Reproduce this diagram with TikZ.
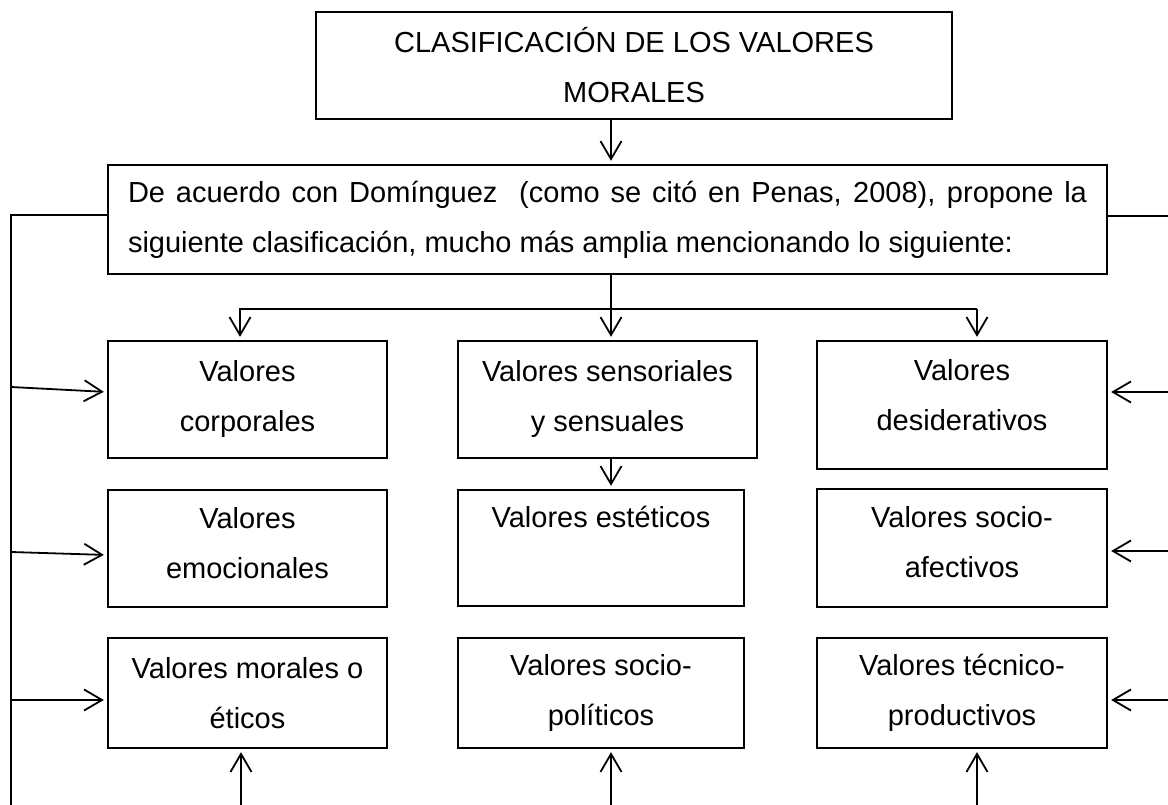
\documentclass[tikz,border=0pt]{standalone}
\usepackage{fontspec}
\setmainfont{Liberation Sans}
\usetikzlibrary{arrows.meta}
\begin{document}
\begin{tikzpicture}[x=1pt,y=-1pt,
  box/.style={draw, line width=1.3pt, inner sep=0pt, align=center, font=\fontsize{29}{50}\selectfont},
  arr/.style={-{Straight Barb[length=18pt,width=21pt]}, line width=1.8pt, shorten >=3.5pt},
  ln/.style={line width=1.8pt}]
\useasboundingbox (0,0) rectangle (1168,805);
\fill[white] (0,0) rectangle (1168,805);

% boxes
\node[box, minimum width=636pt, minimum height=107pt] (title) at (634,65.5) {CLASIFICACIÓN DE LOS VALORES\\MORALES};
\node[box, minimum width=999pt, minimum height=109pt, text width=959pt, align=justify] (sec) at (607.5,219.5)
  {De acuerdo con Domínguez\ \ (como se citó en Penas, 2008), propone la\linebreak siguiente clasificación, mucho más amplia mencionando lo siguiente:};

\node[box, minimum width=279pt, minimum height=117pt] (corp) at (247.5,399.5) {Valores\\corporales};
\node[box, minimum width=299pt, minimum height=117pt] (sens) at (607.5,399.5) {Valores sensoriales\\y sensuales};
\node[box, minimum width=290pt, minimum height=128pt] (des) at (962,405) {Valores\\desiderativos\\[-30pt]\mbox{}};

\node[box, minimum width=279pt, minimum height=117pt] (emo) at (247.5,548.5) {Valores\\emocionales\\[-38pt]\mbox{}};
\node[box, minimum width=286pt, minimum height=116pt] (est) at (601,548) {Valores estéticos\\[12pt]\mbox{}};
\node[box, minimum width=290pt, minimum height=118pt] (soa) at (962,548) {Valores socio-\\afectivos\\[-38pt]\mbox{}};

\node[box, minimum width=279pt, minimum height=110pt] (mor) at (247.5,693) {Valores morales o\\éticos};
\node[box, minimum width=286pt, minimum height=110pt] (sop) at (601,693) {Valores socio-\\políticos};
\node[box, minimum width=290pt, minimum height=110pt] (tec) at (962,693) {Valores técnico-\\productivos};

% helper coordinates
\coordinate (j1) at (611,309);
\coordinate (bl) at (240,309);
\coordinate (br) at (977,309);
\coordinate (L0) at (11,215);
\coordinate (Lb) at (11,805);
\coordinate (La) at (11,387);
\coordinate (Le) at (11,552);
\coordinate (Lm) at (11,700);
\coordinate (R0) at (1168,216);
\coordinate (Ra) at (1168,392);
\coordinate (Rb) at (1168,551);
\coordinate (Rc) at (1168,700);
\coordinate (B1) at (241,805);
\coordinate (B2) at (611,805);
\coordinate (B3) at (977,805);

% connectors
\draw[arr] (title.south -| j1) -- (sec.north -| j1);
\draw[ln] (sec.south -| j1) -- (j1);
\draw[arr] (br) -- (bl) -- (bl |- corp.north);
\draw[arr] (j1) -- (j1 |- sens.north);
\draw[arr] (br) -- (br |- des.north);
\draw[arr] (sens.south -| j1) -- (est.north -| j1);

\draw[ln] (sec.west |- L0) -- (L0) -- (Lb);
\draw[arr] (La) -- ([yshift=7.5pt]corp.west);
\draw[arr] (Le) -- ([yshift=-6.5pt]emo.west);
\draw[arr] (Lm) -- ([yshift=-7pt]mor.west);

\draw[ln] (sec.east |- R0) -- (R0);
\draw[arr] (Ra) -- ([yshift=13pt]des.east);
\draw[arr] (Rb) -- ([yshift=-3pt]soa.east);
\draw[arr] (Rc) -- ([yshift=-7pt]tec.east);

\draw[arr] (B1) -- (B1 |- mor.south);
\draw[arr] (B2) -- (B2 |- sop.south);
\draw[arr] (B3) -- (B3 |- tec.south);
\end{tikzpicture}
\end{document}
